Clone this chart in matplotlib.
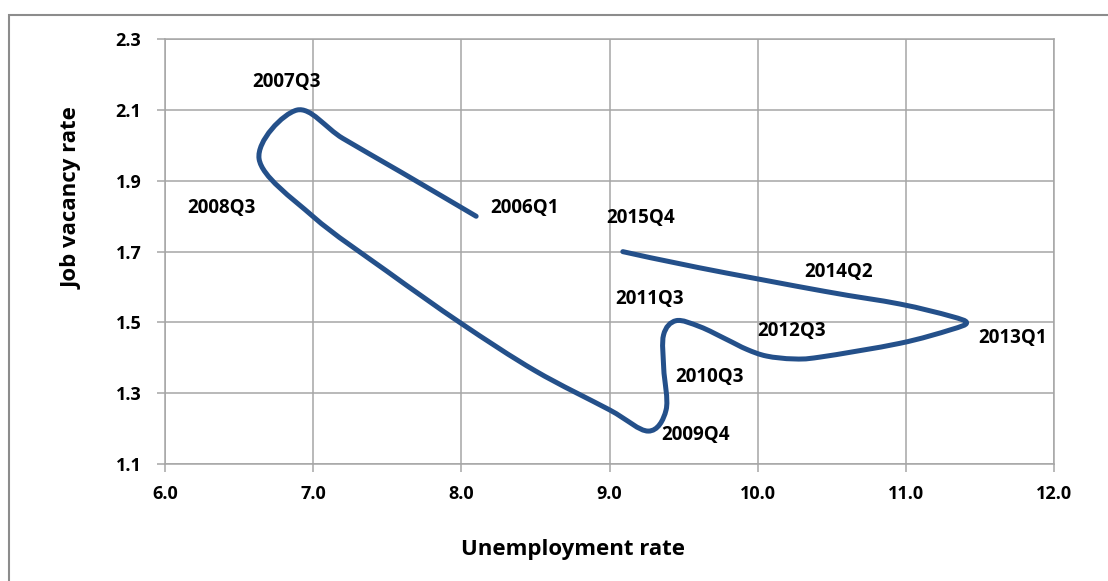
import matplotlib
matplotlib.use("Agg")
import matplotlib.pyplot as plt
import numpy as np
from matplotlib.path import Path
from matplotlib.patches import PathPatch, Rectangle

# Data (unemployment rate, job vacancy rate), in time order
unemployment = [8.10, 7.60, 7.20, 6.89, 6.635, 7.00, 7.50, 8.00, 8.50, 9.00, 9.262,
                9.382, 9.366, 9.365, 9.45, 9.61, 9.79, 9.926, 10.06, 10.24, 10.42,
                10.96, 11.30, 11.41, 11.30, 10.96, 10.45, 9.60, 9.09]
vacancy      = [1.80, 1.923, 2.02, 2.10, 1.962, 1.799, 1.644, 1.497, 1.363, 1.253, 1.193,
                1.253, 1.37, 1.465, 1.505, 1.488, 1.452, 1.424, 1.405, 1.397, 1.402,
                1.441, 1.479, 1.499, 1.518, 1.552, 1.588, 1.655, 1.70]
quarter      = ["2006Q1", "", "", "2007Q3", "2008Q3", "", "", "", "", "", "2009Q4",
                "", "2010Q3", "", "2011Q3", "", "", "", "", "2012Q3", "",
                "", "", "2013Q1", "", "", "2014Q2", "", "2015Q4"]

x_ticks = [6.0, 7.0, 8.0, 9.0, 10.0, 11.0, 12.0]
y_ticks = [1.1, 1.3, 1.5, 1.7, 1.9, 2.1, 2.3]

# label offsets in pixels (dx right, dy up) for each labelled point
label_offsets = {
    "2006Q1": (48.5, 8), "2007Q3": (-10, 28), "2008Q3": (-38, -49.5),
    "2009Q4": (47, -4), "2010Q3": (46, -8.6), "2011Q3": (-27, 21.5),
    "2012Q3": (-1.7, 28), "2013Q1": (46.5, -15.5), "2014Q2": (14.5, 19.5),
    "2015Q4": (18, 33.5),
}

LINE = "#24508a"
GRID = "#a6a6a6"
FONT = "Open Sans"
PX = 72 / 100.0  # points per pixel

fig = plt.figure(figsize=(11.08, 5.81), dpi=100)
fig.patch.set_facecolor("white")
ax = fig.add_axes([165/1108, 1-464/581, (1054-165)/1108, (464-39.3)/581])

# outer chart frame
fig.patches.append(Rectangle((9/1108, -0.05), 1.2, 1-15/581+0.05, transform=fig.transFigure,
                             fill=False, edgecolor="#8c8c8c", linewidth=1.5))

# smooth curve (Excel-style Bezier smoothing through the data points)
P = np.column_stack([unemployment, vacancy])
n = len(P)
verts = [P[0]]
codes = [Path.MOVETO]
for i in range(n - 1):
    p0 = P[i - 1] if i > 0 else P[i]
    p1 = P[i]
    p2 = P[i + 1]
    p3 = P[i + 2] if i + 2 < n else P[i + 1]
    c1 = p1 + (p2 - p0) / 6.0
    c2 = p2 - (p3 - p1) / 6.0
    verts += [c1, c2, p2]
    codes += [Path.CURVE4] * 3
path = Path(np.array(verts), codes)
ax.add_patch(PathPatch(path, facecolor="none", edgecolor=LINE, linewidth=3.6,
                       capstyle="round", joinstyle="round", zorder=3))

for xv, yv, q in zip(unemployment, vacancy, quarter):
    if q:
        dx, dy = label_offsets[q]
        ax.annotate(q, (xv, yv), xytext=(dx * PX, dy * PX), textcoords="offset points",
                    ha="center", va="center", fontsize=13.5, fontfamily=FONT,
                    fontweight="bold", color="black", zorder=4)

ax.set_xlim(6.0, 12.0)
ax.set_ylim(1.1, 2.3)
ax.set_xticks(x_ticks)
ax.set_yticks(y_ticks)
ax.set_xticklabels([f"{v:.1f}" for v in x_ticks])
ax.set_yticklabels([f"{v:.1f}" for v in y_ticks])
ax.grid(True, color=GRID, linewidth=1.1)
ax.set_axisbelow(True)
for s in ax.spines.values():
    s.set_color(GRID)
    s.set_linewidth(1.1)
ax.tick_params(axis="both", direction="out", length=6, color=GRID, width=1.1)
ax.tick_params(axis="x", pad=9)
ax.tick_params(axis="y", pad=11)
for lab in ax.get_xticklabels() + ax.get_yticklabels():
    lab.set_fontfamily(FONT)
    lab.set_fontweight("bold")
    lab.set_fontsize(13)

fig.text(573/1108, 1-549/581, "Unemployment rate", ha="center", va="center",
         fontsize=16, fontweight="bold", fontfamily=FONT)
fig.text(72/1108, 1-198/581, "Job vacancy rate", ha="center", va="center", rotation=90,
         fontsize=16, fontweight="bold", fontfamily=FONT)

fig.savefig("out.png", dpi=100, facecolor="white")
